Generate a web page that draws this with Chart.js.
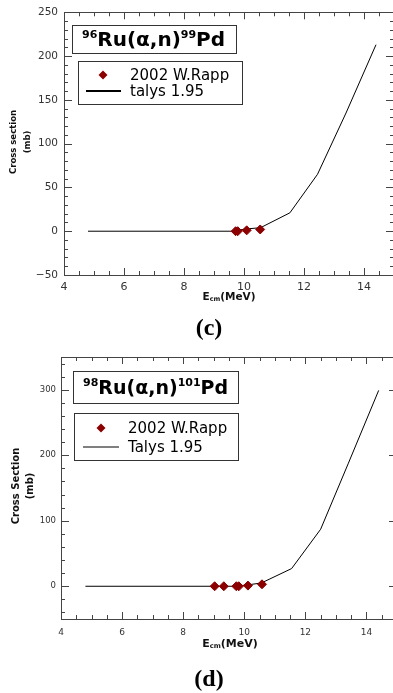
<!DOCTYPE html>
<html>
<head>
<meta charset="utf-8">
<script src="https://cdn.jsdelivr.net/npm/chart.js@4.4.1/dist/chart.umd.min.js"></script>
<style>
    body { margin: 0; width: 393px; height: 693px; overflow: hidden; background: #fff; position: relative; }
    canvas { position: absolute; left: 0; }
    .cap { position: absolute; font-family: "Liberation Serif", serif; font-weight: bold; font-size: 24px; color: #000;
           transform: translate(-50%, -50%); white-space: nowrap; }
</style>
</head>
<body>
<!-- canvases are a little wider than the page: the right frame sits just off the picture -->
<canvas id="chartC" width="400" height="340" style="top:0"></canvas>
<div class="cap" style="left:209px;top:327px">(c)</div>
<canvas id="chartD" width="405" height="353" style="top:340px"></canvas>
<div class="cap" style="left:209px;top:678px">(d)</div>
<script>
// Panel (c): 96Ru(a,n)99Pd
const talysC_E = [4.8, 9.6, 10.05, 10.55, 11.53, 12.45, 13.4, 14.4];
const talysC_xs = [0, 0, 2.5, 4, 21, 65, 135, 213];
const rappC_E = [9.72, 9.79, 10.09, 10.54];
const rappC_xs = [0, 0, 1, 2];

// Panel (d): 98Ru(a,n)101Pd
const talysD_E = [4.8, 9.65, 10.1, 10.56, 11.55, 12.5, 13.41, 14.4];
const talysD_xs = [0, 0, 2, 5, 27, 87, 188, 299];
const rappD_E = [9.03, 9.33, 9.74, 9.82, 10.12, 10.58];
const rappD_xs = [0, 0, 0, 0, 1, 3];

// labelled ticks
const xTicksMajor = [4, 6, 8, 10, 12, 14];
const yTicksC = [-50, 0, 50, 100, 150, 200, 250];
const yTicksD = [0, 100, 200, 300];

function toXY(xs, ys) {
    return xs.map((x, i) => ({ x: x, y: ys[i] }));
}

function isMult(v, step) {
    const r = v / step;
    return Math.abs(r - Math.round(r)) < 1e-6;
}

// tick values every `step` between min and max (major + minor marks)
function stepTicks(min, max, step) {
    const out = [];
    for (let v = Math.ceil(min / step) * step; v <= max + 1e-9; v += step) {
        out.push({ value: Math.round(v * 1000) / 1000 });
    }
    return out;
}

// frame, inward ticks on all four sides, boxes and axis titles
const framePlugin = {
    id: 'frame',
    afterDraw(chart, args, o) {
        const ctx = chart.ctx;
        const a = chart.chartArea;
        const x = chart.scales.x, y = chart.scales.y;
        ctx.save();
        ctx.strokeStyle = '#444';
        ctx.lineWidth = 1;
        ctx.strokeRect(Math.round(a.left) + 0.5, Math.round(a.top) + 0.5,
                       Math.round(a.right - a.left), Math.round(a.bottom - a.top));
        ctx.beginPath();
        x.ticks.forEach(t => {
            const len = isMult(t.value, 2) ? 7 : 4;
            const px = Math.round(x.getPixelForValue(t.value)) + 0.5;
            ctx.moveTo(px, a.bottom); ctx.lineTo(px, a.bottom - len);
            ctx.moveTo(px, a.top); ctx.lineTo(px, a.top + len);
        });
        y.ticks.forEach(t => {
            const len = o.yLabels.includes(t.value) ? 8 : 4;
            const py = Math.round(y.getPixelForValue(t.value)) + 0.5;
            ctx.moveTo(a.left, py); ctx.lineTo(a.left + len, py);
            ctx.moveTo(a.right, py); ctx.lineTo(a.right - len, py);
        });
        ctx.stroke();

        // reaction title box
        ctx.strokeStyle = '#333';
        const tb = o.titleBox;
        ctx.fillStyle = '#fff';
        ctx.fillRect(tb[0], tb[1], tb[2], tb[3]);
        ctx.strokeRect(tb[0] + 0.5, tb[1] + 0.5, tb[2], tb[3]);
        ctx.fillStyle = '#000';
        ctx.textBaseline = 'alphabetic';
        ctx.textAlign = 'left';
        let cx = tb[0] + o.titlePad;
        const base = tb[1] + o.titleBase;
        o.title.forEach(p => {
            ctx.font = 'bold ' + (p.sup ? o.supSize : o.titleSize) + 'px "DejaVu Sans"';
            ctx.fillText(p.t, cx, p.sup ? base - o.titleSize * 0.42 : base);
            cx += ctx.measureText(p.t).width;
        });

        // legend box
        const lb = o.legendBox;
        const lo = o.legendOffsets;
        ctx.fillStyle = '#fff';
        ctx.fillRect(lb[0], lb[1], lb[2], lb[3]);
        ctx.strokeRect(lb[0] + 0.5, lb[1] + 0.5, lb[2], lb[3]);
        ctx.font = '15px "DejaVu Sans"';
        ctx.textBaseline = 'middle';
        chart.data.datasets.forEach((ds, i) => {
            const ly = lb[1] + o.legendRows[i];
            if (ds.type === 'scatter') {
                const mx = lb[0] + lo.marker, r = 4.5;
                ctx.fillStyle = ds.backgroundColor;
                ctx.beginPath();
                ctx.moveTo(mx, ly - r); ctx.lineTo(mx + r, ly); ctx.lineTo(mx, ly + r); ctx.lineTo(mx - r, ly);
                ctx.closePath(); ctx.fill();
            } else {
                ctx.strokeStyle = ds.borderColor;
                ctx.lineWidth = o.legendLineWidth;
                ctx.beginPath();
                ctx.moveTo(lb[0] + lo.line[0], ly); ctx.lineTo(lb[0] + lo.line[1], ly);
                ctx.stroke();
            }
            ctx.fillStyle = '#000';
            ctx.fillText(ds.label, lb[0] + lo.text, ly + 1);
        });

        // axis titles
        ctx.fillStyle = '#111';
        ctx.textAlign = 'left';
        ctx.textBaseline = 'middle';
        const xt = o.xTitle;
        ctx.font = 'bold ' + xt.size + 'px "DejaVu Sans"';
        const wE = ctx.measureText('E').width;
        const wR = ctx.measureText('(MeV)').width;
        ctx.font = 'bold ' + (xt.size * 0.62) + 'px "DejaVu Sans"';
        const wS = ctx.measureText('cm').width;
        let sx = xt.x - (wE + wS + wR) / 2;
        ctx.font = 'bold ' + xt.size + 'px "DejaVu Sans"';
        ctx.fillText('E', sx, xt.y);
        ctx.font = 'bold ' + (xt.size * 0.62) + 'px "DejaVu Sans"';
        ctx.fillText('cm', sx + wE, xt.y + xt.size * 0.22);
        ctx.font = 'bold ' + xt.size + 'px "DejaVu Sans"';
        ctx.fillText('(MeV)', sx + wE + wS, xt.y);

        const yt = o.yTitle;
        ctx.textAlign = 'center';
        ctx.font = 'bold ' + yt.size + 'px "DejaVu Sans"';
        yt.lines.forEach((s, i) => {
            ctx.save();
            ctx.translate(yt.x[i], yt.y);
            ctx.rotate(-Math.PI / 2);
            ctx.fillText(s, 0, 0);
            ctx.restore();
        });
        ctx.restore();
    }
};

function minusFmt(v) {
    return v < 0 ? '\u2212' + Math.abs(v) : String(v);
}

function makeChart(id, cfg) {
    return new Chart(document.getElementById(id), {
        data: {
            datasets: [
                {
                    type: 'scatter',
                    label: '2002 W.Rapp',
                    data: toXY(cfg.rappE, cfg.rappXs),
                    backgroundColor: '#8b0000',
                    borderColor: '#8b0000',
                    pointStyle: 'rectRot',
                    pointRadius: 4.5,
                    order: 0
                },
                {
                    type: 'line',
                    label: cfg.talysLabel,
                    data: toXY(cfg.talysE, cfg.talysXs),
                    borderColor: '#000',
                    borderWidth: 1,
                    pointRadius: 0,
                    tension: 0,
                    fill: false,
                    order: 1
                }
            ]
        },
        options: {
            responsive: false,
            animation: false,
            events: [],
            layout: { padding: cfg.padding },
            plugins: {
                legend: { display: false },
                tooltip: { enabled: false },
                frame: cfg.frame
            },
            scales: {
                x: {
                    type: 'linear',
                    min: 4,
                    max: 15,
                    afterBuildTicks: s => { s.ticks = stepTicks(4, 15, 0.5); },
                    afterFit: s => { s.height = cfg.xHeight; },
                    grid: { display: false, drawTicks: false },
                    border: { display: false },
                    ticks: {
                        autoSkip: false,
                        maxRotation: 0,
                        padding: cfg.xPad,
                        color: '#333',
                        font: { family: 'DejaVu Sans', size: cfg.xFont },
                        callback: v => xTicksMajor.includes(v) ? String(v) : ''
                    }
                },
                y: {
                    type: 'linear',
                    min: cfg.yMin,
                    max: cfg.yMax,
                    afterBuildTicks: s => { s.ticks = stepTicks(cfg.yMin, cfg.yMax, cfg.yMinor); },
                    afterFit: s => { s.width = cfg.yWidth; },
                    grid: { display: false, drawTicks: false },
                    border: { display: false },
                    ticks: {
                        autoSkip: false,
                        padding: cfg.yPad,
                        color: '#333',
                        font: { family: 'DejaVu Sans', size: cfg.yFont },
                        callback: v => cfg.frame.yLabels.includes(v) ? minusFmt(v) : ''
                    }
                }
            }
        },
        plugins: [framePlugin]
    });
}

makeChart('chartC', {
    rappE: rappC_E, rappXs: rappC_xs,
    talysE: talysC_E, talysXs: talysC_xs,
    talysLabel: 'talys 1.95',
    padding: { top: 11, right: 0, left: 0, bottom: 0 },
    xHeight: 65, yWidth: 64,
    yMin: -50, yMax: 250, yMinor: 10,
    xPad: 6, yPad: 6, xFont: 11, yFont: 10.5,
    frame: {
        yLabels: yTicksC,
        titleBox: [72, 25, 164, 28],
        title: [{ t: '96', sup: true }, { t: 'Ru(\u03b1,n)' }, { t: '99', sup: true }, { t: 'Pd' }],
        titlePad: 10, titleBase: 21, titleSize: 20, supSize: 11,
        legendBox: [78, 61, 164, 43],
        legendRows: [14, 30],
        legendOffsets: { marker: 25, line: [8, 43], text: 52 },
        legendLineWidth: 1.8,
        xTitle: { x: 229, y: 297, size: 10.5 },
        yTitle: { lines: ['Cross section', '(mb)'], x: [14, 28], y: 142, size: 8.5 }
    }
});

makeChart('chartD', {
    rappE: rappD_E, rappXs: rappD_xs,
    talysE: talysD_E, talysXs: talysD_xs,
    talysLabel: 'Talys 1.95',
    padding: { top: 17, right: 0, left: 0, bottom: 0 },
    xHeight: 74, yWidth: 61,
    yMin: -50, yMax: 350, yMinor: 20,
    xPad: 8, yPad: 5, xFont: 9, yFont: 8.5,
    frame: {
        yLabels: yTicksD,
        titleBox: [73, 31, 165, 32],
        title: [{ t: '98', sup: true }, { t: 'Ru(\u03b1,n)' }, { t: '101', sup: true }, { t: 'Pd' }],
        titlePad: 10, titleBase: 23, titleSize: 19, supSize: 11,
        legendBox: [74, 73, 164, 47],
        legendRows: [15, 34],
        legendOffsets: { marker: 27, line: [9, 45], text: 54 },
        legendLineWidth: 1,
        xTitle: { x: 230, y: 304, size: 11 },
        yTitle: { lines: ['Cross Section', '(mb)'], x: [16, 30], y: 146, size: 10 }
    }
});
</script>
</body>
</html>
